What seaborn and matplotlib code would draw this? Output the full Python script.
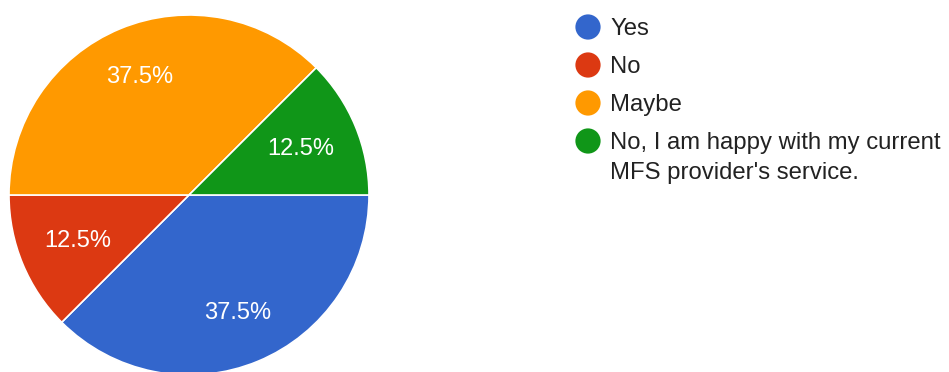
import matplotlib
matplotlib.use("Agg")
import matplotlib.pyplot as plt
import numpy as np
import seaborn as sns

sns.set_theme(style="white")
plt.rcParams["font.family"] = ["Liberation Sans", "DejaVu Sans"]

# Survey responses (share of respondents, %)
categories = ["Yes", "No", "Maybe", "No, I am happy with my current\nMFS provider's service."]
shares = [37.5, 12.5, 37.5, 12.5]
colors = sns.color_palette(["#3366cc", "#dc3912", "#ff9900", "#109618"])

W, H = 949, 372
fig = plt.figure(figsize=(W / 100, H / 100), dpi=100)
fig.patch.set_facecolor("white")

# Pie occupies a 360 px square on the left
ax = fig.add_axes([9 / W, (H - 375) / H, 360 / W, 360 / H])
wedges, _, autotexts = ax.pie(
    shares,
    colors=colors,
    startangle=0,
    counterclock=False,
    autopct="%.1f%%",
    pctdistance=0.71,
    radius=1.0,
    wedgeprops=dict(edgecolor="white", linewidth=1.2),
    textprops=dict(color="white", fontsize=17),
)
# narrow slices keep their label a little closer to the centre
for w, t, share in zip(wedges, autotexts, shares):
    if share < 20:
        mid = np.deg2rad((w.theta1 + w.theta2) / 2)
        t.set_position((0.67 * np.cos(mid), 0.67 * np.sin(mid)))
ax.set_xlim(-1, 1)
ax.set_ylim(-1, 1)
ax.set_aspect("equal")
ax.axis("off")

# Legend: round swatches with labels, the swatch aligned to the first text line
lax = fig.add_axes([0, 0, 1, 1])
lax.set_xlim(0, W)
lax.set_ylim(H, 0)
lax.axis("off")
row_step = 38
first_row = 27
for i, (label, c) in enumerate(zip(categories, colors)):
    y = first_row + i * row_step
    lax.scatter([588], [y], s=330, color=c, edgecolor="none", clip_on=False)
    lax.text(610, y - 9, label, fontsize=17.2, color="#222222",
             va="top", ha="left", linespacing=1.45)

fig.savefig("out.png", dpi=100, facecolor="white")
